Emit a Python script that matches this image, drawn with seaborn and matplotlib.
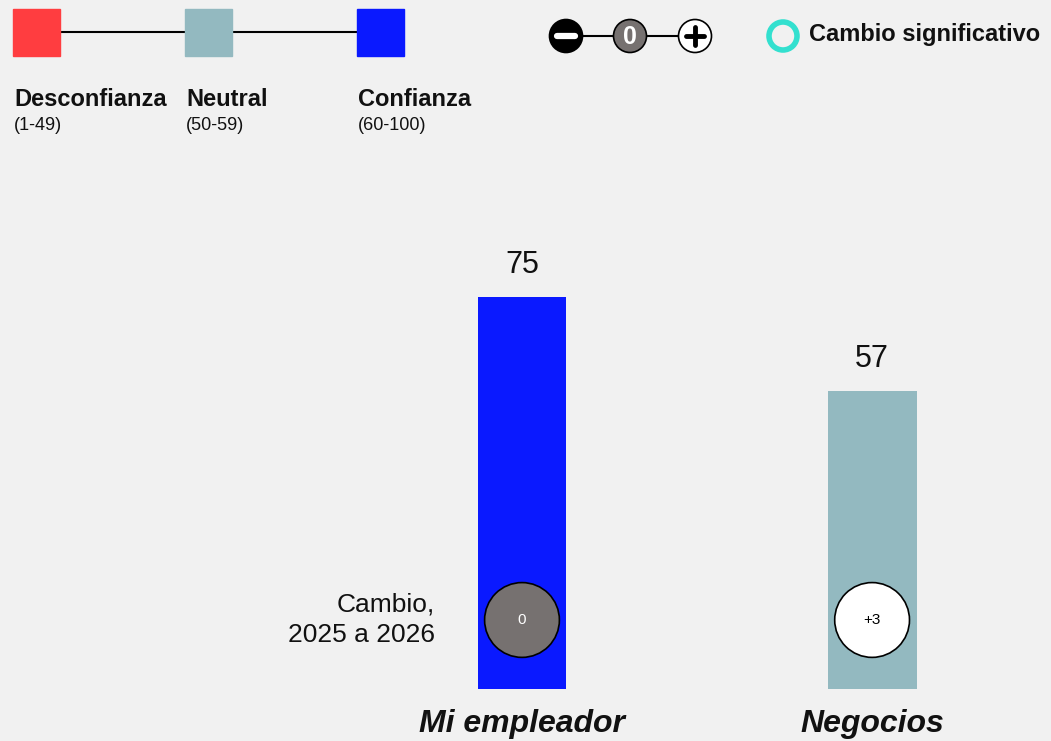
import matplotlib
matplotlib.use("Agg")
import matplotlib.pyplot as plt
import seaborn as sns
import numpy as np

# data
categories = ["Mi empleador", "Negocios"]
trust_values = [75, 57]
changes = [0, 3]
change_labels = ["0", "+3"]

band_names = ["Desconfianza", "Neutral", "Confianza"]
band_ranges = ["(1-49)", "(50-59)", "(60-100)"]

BG = "#F1F1F1"
RED = "#FF3D40"
NEUTRAL = "#93B9C0"
BLUE = "#0A19FF"
GREY = "#767170"
TEAL = "#33E0CF"


def band_color(v):
    if v < 50:
        return RED
    if v < 60:
        return NEUTRAL
    return BLUE


def change_color(c):
    if c > 0:
        return "white"
    if c < 0:
        return "black"
    return GREY


sns.set_theme(style="white")
plt.rcParams["font.family"] = ["Liberation Sans", "DejaVu Sans"]

W, H = 1051, 741
fig = plt.figure(figsize=(W / 100, H / 100), dpi=100, facecolor=BG)

# main bar axes (full figure)
ax = fig.add_axes([0, 0, 1, 1])
ax.set_facecolor(BG)
palette = {c: band_color(v) for c, v in zip(categories, trust_values)}
sns.barplot(x=categories, y=trust_values, hue=categories, palette=palette,
            width=0.254, saturation=1, legend=False, linewidth=0, ax=ax)
ax.set_xlim(-1.491, 1.511)
ax.set_ylim(-9.95, 131.8)
ax.axis("off")

xs = np.arange(len(categories))
for x, v in zip(xs, trust_values):
    ax.annotate(str(v), (x, v), xytext=(0, 17), textcoords="offset points",
                ha="center", va="baseline", fontsize=22, color="#111111")

CHANGE_Y = 13.2
ax.scatter(xs, [CHANGE_Y] * len(xs), s=2900,
           c=[change_color(c) for c in changes], edgecolors="black",
           linewidths=1.2, zorder=5)
for x, c, lab in zip(xs, changes, change_labels):
    ax.text(x, CHANGE_Y, lab, ha="center", va="center", fontsize=11,
            color="white" if c == 0 else "black", zorder=6)

ax.text(-0.249, CHANGE_Y, "Cambio,\n2025 a 2026", ha="right", va="center",
        fontsize=19, color="#111111", linespacing=1.35)

for x, name in zip(xs, categories):
    ax.text(x, -6.7, name, ha="center", va="center", fontsize=23,
            fontweight="bold", fontstyle="italic", color="#111111")

# legend overlay in pixel coordinates
lg = fig.add_axes([0, 0, 1, 1], facecolor="none")
lg.set_xlim(0, W)
lg.set_ylim(H, 0)
lg.axis("off")

sq_x = [13, 185, 357]
sq_cols = [RED, NEUTRAL, BLUE]
lg.plot([36, 380], [32, 32], color="black", lw=1.5, zorder=1)
for x0, col, name, rng in zip(sq_x, sq_cols, band_names, band_ranges):
    lg.add_patch(plt.Rectangle((x0, 9), 47, 47, color=col, zorder=2))
    lg.text(x0 + 1, 99, name, ha="left", va="center", fontsize=17,
            fontweight="bold", color="#111111")
    lg.text(x0 + 1, 125, rng, ha="left", va="center", fontsize=13,
            color="#111111")

sym_x = [566, 630, 695]
sym_cols = ["black", GREY, "white"]
lg.plot([566, 695], [36, 36], color="black", lw=1.5, zorder=1)
for sx, col in zip(sym_x, sym_cols):
    lg.add_patch(plt.Circle((sx, 36), 16.5, facecolor=col, edgecolor="black",
                            lw=1.2, zorder=2))
lg.plot([557, 575], [36, 36], color="white", lw=4.5, solid_capstyle="round", zorder=3)
lg.text(630, 37, "0", ha="center", va="center", fontsize=18,
        fontweight="bold", color="white", zorder=3)
lg.plot([686, 704], [36, 36], color="black", lw=3.5, solid_capstyle="round", zorder=3)
lg.plot([695, 695], [27, 45], color="black", lw=3.5, solid_capstyle="round", zorder=3)

lg.add_patch(plt.Circle((783, 36), 14, facecolor="none", edgecolor=TEAL,
                        lw=4, zorder=2))
lg.text(809, 35, "Cambio significativo", ha="left", va="center", fontsize=17,
        fontweight="bold", color="#111111")

fig.savefig("out.png", dpi=100, facecolor=BG)
